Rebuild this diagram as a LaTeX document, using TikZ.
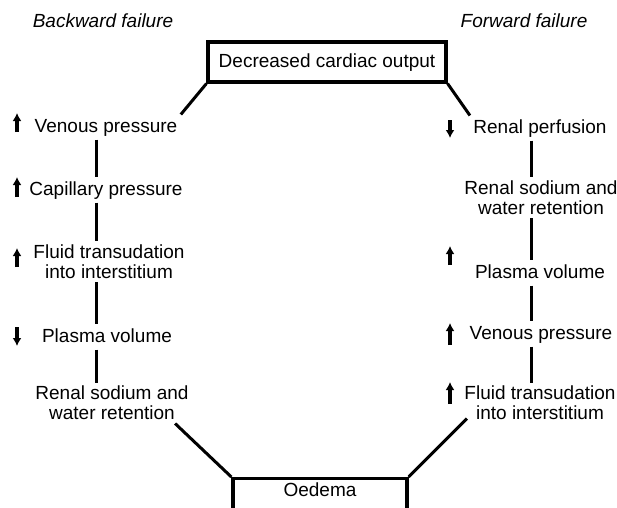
\documentclass[tikz,border=0pt]{standalone}
\usepackage{fontspec}
\setmainfont{Liberation Sans}
\usepackage{tikz}
\usetikzlibrary{arrows.meta}

\begin{document}
\begin{tikzpicture}[x=1pt, y=-1pt, font=\fontsize{19}{20}\selectfont,
    item/.style={text height=14pt, text depth=4pt},
    pair/.style={align=center},
    box/.style={draw, line width=3.2pt, text height=14pt, text depth=4pt},
    link/.style={line width=3pt},
    trend/.style={-{Latex[length=8pt, width=9pt]}, line width=3.2pt}]
      \useasboundingbox (0,0) rectangle (617,507);
      \clip (0,0) rectangle (617,507);

      \node (back) at (103,21) {\itshape Backward failure};
      \node (fwd) at (524,21) {\itshape Forward failure};

      \node[box, minimum width=238pt, minimum height=40pt] (top) at (327,62) {Decreased cardiac output};
      \node[box, anchor=north, minimum width=174pt, inner ysep=4pt, text depth=40pt] (oedema) at (320,477) {Oedema};

      % backward column
      \coordinate (bx) at (96,0);
      \node[item] (b1) at (106,127) {Venous pressure};
      \node[item] (b2) at (106,190) {Capillary pressure};
      \node[pair] (b3) at (109,261.5) {Fluid transudation\\into interstitium};
      \node[item] (b4) at (107,337) {Plasma volume};
      \node[pair] (b5) at (112,403) {Renal sodium and\\water retention};

      % forward column
      \coordinate (fx) at (531,0);
      \node[item] (f1) at (540,128) {Renal perfusion};
      \node[pair] (f2) at (541,197.5) {Renal sodium and\\water retention};
      \node[item] (f3) at (540,273) {Plasma volume};
      \node[item] (f4) at (541,334) {Venous pressure};
      \node[pair] (f5) at (540,403) {Fluid transudation\\into interstitium};

      \draw[link] (top.south west) -- (b1.north east);
      \draw[link] (top.south east) -- (f1.north west);
      \draw[link] ([xshift=-17pt]b5.south east) -- (oedema.north west);
      \draw[link] (oedema.north east) -- ([xshift=6pt, yshift=5pt]f5.south west);

      \draw[link] (b1.south -| bx) -- (b2.north -| bx);
      \draw[link] (b2.south -| bx) -- (b3.north -| bx);
      \draw[link] (b3.south -| bx) -- (b4.north -| bx);
      \draw[link] (b4.south -| bx) -- (b5.north -| bx);

      \draw[link] (f1.south -| fx) -- (f2.north -| fx);
      \draw[link] (f2.south -| fx) -- (f3.north -| fx);
      \draw[link] (f3.south -| fx) -- (f4.north -| fx);
      \draw[link] (f4.south -| fx) -- (f5.north -| fx);

      % up and down marks
      \draw[trend] (17,132) -- (17,113);
      \draw[trend] (17,197) -- (17,177);
      \draw[trend] (17,267) -- (17,248);
      \draw[trend] (17,327) -- (17,346);
      \draw[trend] (450,120) -- (450,138);
      \draw[trend] (450,265) -- (450,246);
      \draw[trend] (450,345) -- (450,323);
      \draw[trend] (450,404) -- (450,382);

    \end{tikzpicture}
\end{document}
